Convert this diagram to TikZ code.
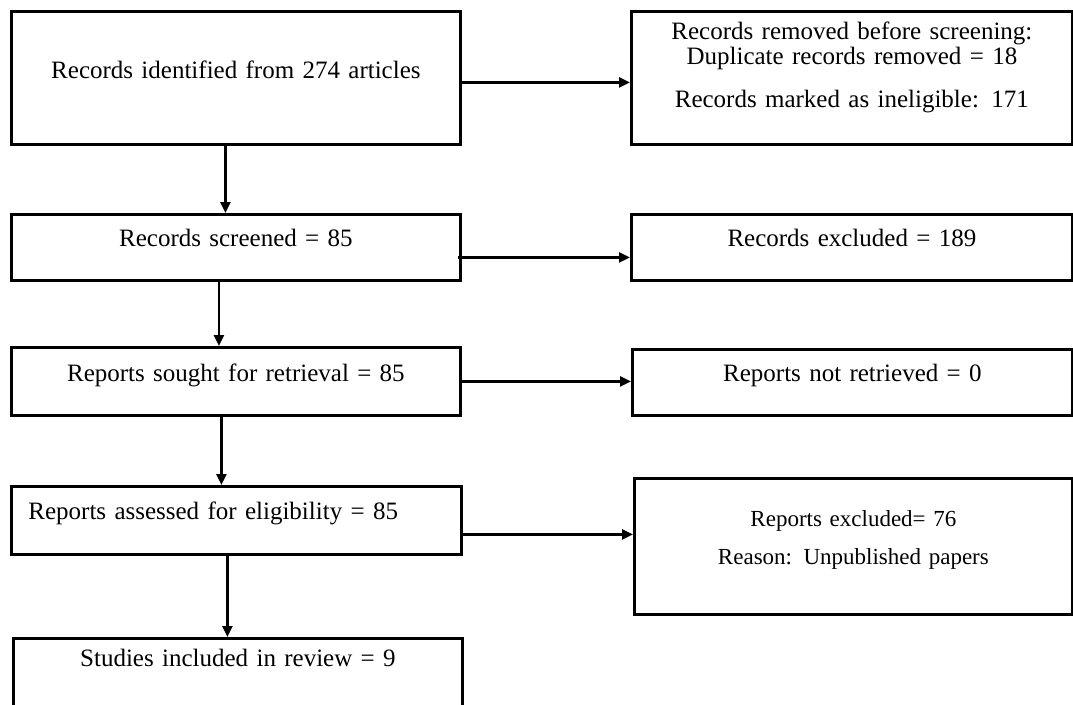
\documentclass[tikz,border=0pt]{standalone}
\usepackage{fontspec}
\setmainfont{Liberation Serif}
\usepackage{tikz}
\usetikzlibrary{arrows.meta,positioning,calc}

\begin{document}
\begin{tikzpicture}[x=1pt,y=-1pt,
recbox/.style={rectangle, draw, line width=2.8pt, inner sep=0pt, anchor=north west, align=center, font=\fontsize{25}{25.5}\selectfont},
arr/.style={-{Triangle[length=11pt,width=10pt]}, line width=2.4pt},
]
\useasboundingbox (0,0) rectangle (1073,704);
\clip (0,0) rectangle (1073,704);
%Nodes
\node[recbox, text width=449pt, text height=67pt, text depth=66pt](ident) at (10,10) {Records identified from 274 articles};
\node[recbox, text width=441pt, text height=28pt, text depth=105pt](removed) at (630,10) {Records removed before screening:\\ Duplicate records removed = 18\\[17.5pt] Records marked as ineligible: 171};
\node[recbox, text width=449pt, text height=32pt, text depth=34pt](screen) at (10,213) {Records screened = 85};
\node[recbox, text width=441pt, text height=32pt, text depth=34pt](excl) at (630,213) {Records excluded = 189};
\node[recbox, text width=449pt, text height=34pt, text depth=34pt](sought) at (10,346) {Reports sought for retrieval = 85};
\node[recbox, text width=440pt, text height=32pt, text depth=34pt](notret) at (631,348) {Reports not retrieved = 0};
\node[recbox, align=left, inner xsep=17pt, text width=416pt, text height=33pt, text depth=35pt](assess) at (10,485) {Reports assessed for eligibility = 85};
\node[recbox, font=\fontsize{23}{23}\selectfont, text width=438pt, text height=48pt, text depth=88pt](repexcl) at (633,477) {Reports excluded= 76\\[15pt] Reason: Unpublished papers};
\node[recbox, text width=449pt, text height=28pt, text depth=90pt](incl) at (12,637) {Studies included in review = 9};
%Arrows
\draw[arr] ([xshift=-10.5pt]ident.south) -- ([xshift=-10.5pt]ident.south |- screen.north);
\draw[arr] ([xshift=-17pt]screen.south) -- ([xshift=-17pt]screen.south |- sought.north);
\draw[arr] ([xshift=-14.5pt]sought.south) -- ([xshift=-14.5pt]sought.south |- assess.north);
\draw[arr] ([xshift=-9pt]assess.south) -- ([xshift=-9pt]assess.south |- incl.north);
\draw[arr] ([yshift=-4.5pt]ident.east) -- ([yshift=-4.5pt]ident.east -| removed.west);
\draw[arr] ([xshift=-4pt,yshift=-10pt]screen.east) -- ([yshift=-10pt]screen.east -| excl.west);
\draw[arr] (sought.east) -- (sought.east -| notret.west);
\draw[arr] ([yshift=-14pt]assess.east) -- ([yshift=-14pt]assess.east -| repexcl.west);
\end{tikzpicture}
\end{document}
